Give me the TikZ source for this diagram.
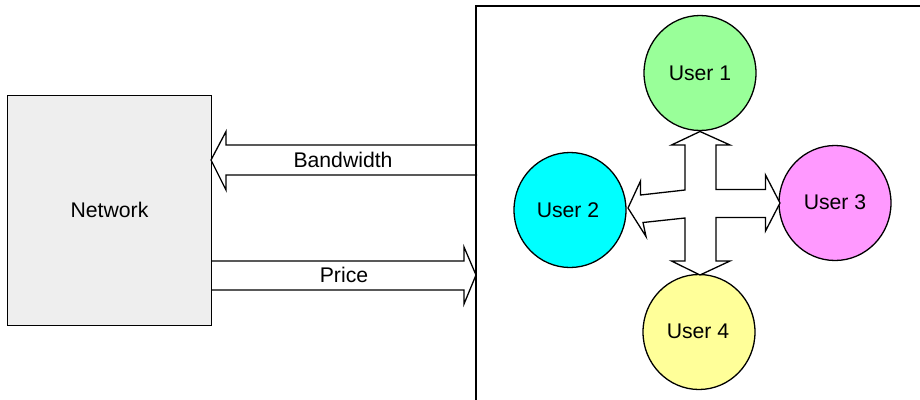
\documentclass[tikz,border=0pt]{standalone}
\usepackage{fontspec}
\setmainfont{Liberation Sans}
\usetikzlibrary{shapes.geometric}
\definecolor{netgray}{HTML}{EEEEEE}
\definecolor{ugreen}{HTML}{99FF99}
\definecolor{ucyan}{HTML}{00FFFF}
\definecolor{upink}{HTML}{FF99FF}
\definecolor{uyellow}{HTML}{FFFF99}
\tikzset{
  outline/.style={draw=black, line width=1.3pt, line join=miter},
  user/.style={outline, ellipse, minimum width=112pt, minimum height=115pt, inner sep=0pt},
  lbl/.style={font=\fontsize{21.2}{25}\selectfont, inner sep=0pt}
}
\begin{document}
\begin{tikzpicture}[x=1pt, y=-1pt]
\useasboundingbox (0,0) rectangle (920,399);
\clip (0,0) rectangle (920,399);
\fill[white] (0,0) rectangle (920,399);

% network box (filled first, outlined after the arrows)
\node[fill=netgray, minimum width=203pt, minimum height=229pt, inner sep=0pt] (net) at (109.5,210.5) {};
\node[lbl] (netlbl) at (109.5,210) {Network};

% bandwidth arrow (region -> network)
\draw[outline, fill=white] (477,145) -- (226,145) -- (226,131.5) -- (211,160) -- (226,190)
  -- (226,175) -- (477,175);
\node[lbl] (bw) at (343,160) {Bandwidth};

% price arrow (network -> region)
\draw[outline, fill=white] (211,261) -- (464,261) -- (464,247) -- (476,275) -- (464,304)
  -- (464,290) -- (211,290);
\node[lbl] (price) at (344,275) {Price};

% borders of network box and users region
\draw[outline] (net.north west) rectangle (net.south east);
\draw[outline] (476,6) rectangle (940,420);

% users
\node[user, fill=ugreen] (u1) at (700,73) {};
\node[user, fill=ucyan] (u2) at (570,210) {};
\node[user, fill=upink] (u3) at (835,203) {};
\node[user, fill=uyellow] (u4) at (699,332) {};

% four-way exchange arrow between users
\draw[outline, fill=white]
  (700,131.5) -- (730,145) -- (716,145) -- (716,189.5) -- (765.5,189.5) -- (765.5,175)
  -- (780,203) -- (765.5,231) -- (765.5,217.5) -- (716,217.5) -- (716,261) -- (730,261)
  -- (700,275) -- (671.5,261) -- (685,261) -- (685,218) -- (643,222.5) -- (646,236.5)
  -- (628,208) -- (640.5,181) -- (640.5,195) -- (685,190) -- (685,145) -- (671.5,145) -- cycle;

\node[lbl] (t1) at (u1) {User 1};
\node[lbl] (t2) at (568,210) {User 2};
\node[lbl] (t3) at (835,202) {User 3};
\node[lbl] (t4) at (698,331) {User 4};
\end{tikzpicture}
\end{document}
